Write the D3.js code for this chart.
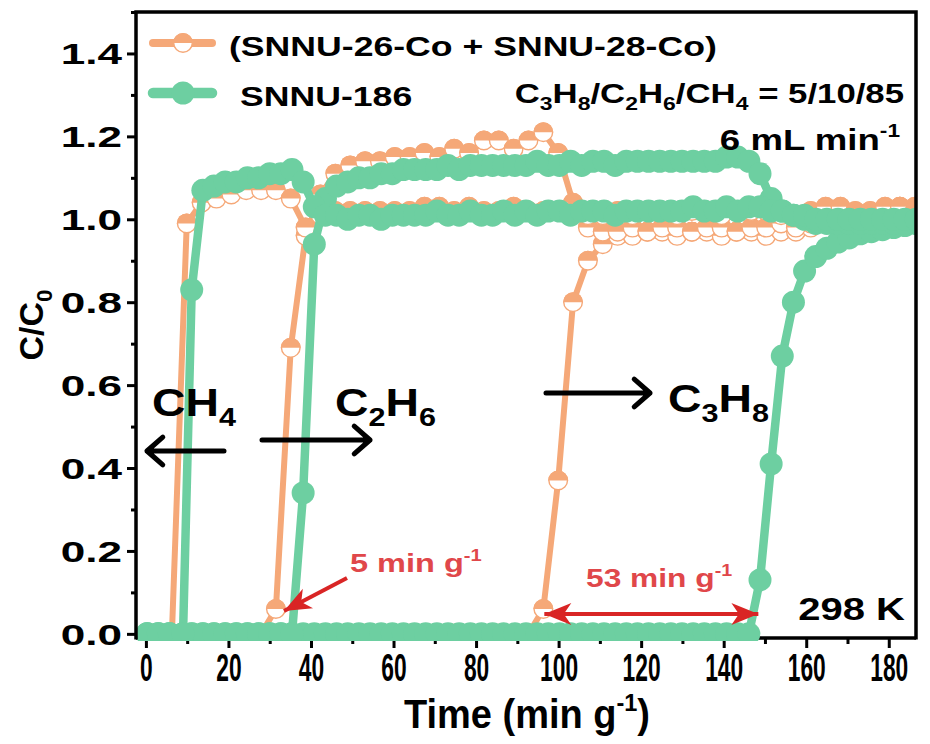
<!DOCTYPE html>
<html><head><meta charset="utf-8">
<script src="https://cdn.jsdelivr.net/npm/d3@7"></script>
<style>
html,body{margin:0;padding:0;background:#fff;}
svg text{font-family:"Liberation Sans",Arial,sans-serif;font-weight:bold;}
</style></head><body>
<svg id="c" width="930" height="744"></svg>
<script>
// ---------------- data ----------------
const xTicks = [0, 20, 40, 60, 80, 100, 120, 140, 160, 180];
const xMinor = [10, 30, 50, 70, 90, 110, 130, 150, 170];
const yTicks = [0, 0.2, 0.4, 0.6, 0.8, 1.0, 1.2, 1.4];
const yMinor = [0.1, 0.3, 0.5, 0.7, 0.9, 1.1, 1.3, 1.5];
const seriesNames = ["(SNNU-26-Co + SNNU-28-Co)", "SNNU-186"];

// (SNNU-26-Co + SNNU-28-Co)
const orangeTime = [2.7, 6.3, 9.9, 13.5, 17.1, 20.7, 24.3, 27.9, 31.5, 35.1,
  38.7, 42.3, 45.9, 49.5, 53.1, 56.7, 60.3, 63.9, 67.5, 71.1,
  74.7, 78.3, 81.9, 85.5, 89.1, 92.7, 96.3, 99.9, 103.5, 107.1,
  110.7, 114.3, 117.9, 121.5, 125.1, 128.7, 132.3, 135.9, 139.5, 143.1,
  146.7, 150.3, 153.9, 157.5, 161.1, 164.7, 168.3, 171.9, 175.5, 179.1,
  182.7, 186.3];
const orangeCH4 = [0, 0, 0.99, 1.04, 1.05, 1.06, 1.07, 1.07, 1.07, 1.05,
  0.98, 1.01, 1.02, 1.02, 1.02, 1.02, 1.02, 1.02, 1.03, 1.03,
  1.02, 1.03, 1.02, 1.02, 1.03, 1.02, 1.02, 1.02, 1.02, 1.01,
  1.01, 1.02, 1.01, 1.02, 1.02, 1.01, 1.02, 1.02, 1.01, 1.02,
  1.02, 1.02, 1.01, 1.01, 1.02, 1.03, 1.03, 1.02, 1.02, 1.03,
  1.03, 1.02];
const orangeC2H6 = [0, 0, 0, 0, 0, 0, 0, 0, 0.06, 0.69,
  0.96, 1.06, 1.11, 1.13, 1.14, 1.14, 1.15, 1.15, 1.16, 1.15,
  1.17, 1.16, 1.19, 1.19, 1.17, 1.19, 1.21, 1.16, 1.04, 0.98,
  0.97, 0.97, 0.98, 0.97, 0.98, 0.98, 0.97, 0.98, 0.98, 0.97,
  0.98, 0.98, 0.99, 0.98, 0.99, 1.00, 1.00, 1.01, 1.00, 1.01,
  1.02, 1.01];
const orangeC3H8 = [0, 0, 0, 0, 0, 0, 0, 0, 0, 0,
  0, 0, 0, 0, 0, 0, 0, 0, 0, 0,
  0, 0, 0, 0, 0, 0, 0.06, 0.37, 0.80, 0.90,
  0.94, 0.96, 0.96, 0.97, 0.97, 0.96, 0.97, 0.97, 0.96, 0.97,
  0.97, 0.96, 0.97, 0.97, 0.98, 0.99, 1.00, 1.00, 1.01, 1.02,
  1.03, 1.03];

// SNNU-186
const greenTime = [0.3, 3.0, 5.7, 9.0, 11.1, 13.8, 16.5, 19.2, 21.9, 24.6,
  27.3, 30.0, 32.7, 35.4, 38.1, 40.8, 43.5, 46.2, 48.9, 51.6,
  54.3, 57.0, 59.7, 62.4, 65.1, 67.8, 70.5, 73.2, 75.9, 78.6,
  81.3, 84.0, 86.7, 89.4, 92.1, 94.8, 97.5, 100.2, 102.9, 105.6,
  108.3, 111.0, 113.7, 116.4, 119.1, 121.8, 124.5, 127.2, 129.9, 132.6,
  135.3, 138.0, 140.7, 143.4, 146.1, 148.8, 151.5, 154.2, 156.9, 159.6,
  162.3, 165.0, 167.7, 170.4, 173.1, 175.8, 178.5, 181.2, 183.9, 186.6];
const greenCH4 = [0, 0, 0, 0, 0.83, 1.07, 1.08, 1.09, 1.09, 1.10,
  1.10, 1.11, 1.11, 1.12, 1.09, 1.03, 1.01, 1.01, 1.00, 1.01,
  1.01, 1.00, 1.01, 1.01, 1.01, 1.01, 1.02, 1.01, 1.01, 1.02,
  1.01, 1.01, 1.02, 1.01, 1.02, 1.01, 1.02, 1.02, 1.01, 1.02,
  1.02, 1.02, 1.01, 1.02, 1.02, 1.02, 1.02, 1.02, 1.02, 1.03,
  1.02, 1.02, 1.03, 1.02, 1.03, 1.03, 1.02, 1.02, 1.01, 1.01,
  1.00, 1.00, 1.00, 1.00, 1.00, 1.00, 1.00, 1.00, 1.00, 1.00];
const greenC2H6 = [0, 0, 0, 0, 0, 0, 0, 0, 0, 0,
  0, 0, 0, 0, 0.34, 0.94, 1.05, 1.08, 1.09, 1.10,
  1.10, 1.11, 1.11, 1.12, 1.12, 1.12, 1.12, 1.13, 1.12, 1.13,
  1.13, 1.13, 1.13, 1.13, 1.13, 1.14, 1.13, 1.13, 1.14, 1.13,
  1.14, 1.14, 1.13, 1.14, 1.14, 1.14, 1.14, 1.14, 1.14, 1.14,
  1.14, 1.14, 1.15, 1.15, 1.14, 1.11, 1.05, 1.02, 1.01, 1.00,
  0.99, 0.99, 0.99, 0.99, 0.99, 0.99, 0.99, 0.99, 0.99, 0.99];
const greenC3H8 = [0, 0, 0, 0, 0, 0, 0, 0, 0, 0,
  0, 0, 0, 0, 0, 0, 0, 0, 0, 0,
  0, 0, 0, 0, 0, 0, 0, 0, 0, 0,
  0, 0, 0, 0, 0, 0, 0, 0, 0, 0,
  0, 0, 0, 0, 0, 0, 0, 0, 0, 0,
  0, 0, 0, 0, 0, 0.13, 0.41, 0.67, 0.80, 0.875,
  0.91, 0.93, 0.945, 0.955, 0.965, 0.97, 0.975, 0.98, 0.985, 0.99];

// annotation values (x positions in min g-1)
const delayC3H8 = [96.3, 148.4];  // "53 min g-1"

// ---------------- drawing ----------------
const OR = "#F5A878", GR = "#6DCFA1", RED = "#D92525", RTXT = "#E0474A";
const L = 136, R = 916, T = 12, B = 638;
const x = d3.scaleLinear().domain([-2.4, 186.6]).range([L, R]);
const y = d3.scaleLinear().domain([-0.01, 1.5]).range([B, T]);
const svg = d3.select("#c");

// bottom frame line (drawn under data)
svg.append("line").attr("x1", L).attr("x2", R).attr("y1", B).attr("y2", B)
  .attr("stroke", "#000").attr("stroke-width", 3.5);

function styleAxis(g) {
  g.attr("font-size", null).attr("font-family", null);
  g.select(".domain").remove();
  g.selectAll("line").attr("stroke", "#000").attr("stroke-width", 3);
}
// x axis
const gx = svg.append("g").attr("transform", `translate(0,${B})`)
  .call(d3.axisBottom(x).tickValues(xTicks).tickSize(10).tickFormat(d => d));
styleAxis(gx);
gx.selectAll("text").attr("y", 0).attr("dy", 0).attr("font-size", 38).attr("fill", "#000")
  .attr("transform", "translate(0,43) scale(0.6,1)");
const gxm = svg.append("g").attr("transform", `translate(0,${B})`)
  .call(d3.axisBottom(x).tickValues(xMinor).tickSize(6).tickFormat(""));
styleAxis(gxm);

// y axis
const gy = svg.append("g").attr("transform", `translate(${L},0)`)
  .call(d3.axisLeft(y).tickValues(yTicks).tickSize(9).tickFormat(d3.format(".1f")));
styleAxis(gy);
gy.selectAll("text").attr("x", 0).attr("dy", "0.36em").attr("font-size", 29).attr("fill", "#000")
  .attr("transform", "translate(-14,0) scale(1.52,1)");
const gym = svg.append("g").attr("transform", `translate(${L},0)`)
  .call(d3.axisLeft(y).tickValues(yMinor).tickSize(5).tickFormat(""));
styleAxis(gym);

// data
svg.append("clipPath").attr("id", "pc").append("rect")
  .attr("x", L + 1.5).attr("y", T).attr("width", R - L - 1.5).attr("height", B - T + 3);
const plot = svg.append("g").attr("clip-path", "url(#pc)");
const line = d3.line().x(d => x(d[0])).y(d => y(d[1]));
const halfArc = d3.arc()({innerRadius: 0, outerRadius: 10, startAngle: -Math.PI / 2, endAngle: Math.PI / 2});

function orangeMarker(sel) {
  sel.append("circle").attr("r", 9.3).attr("fill", "#fff").attr("stroke", OR).attr("stroke-width", 1.4);
  sel.append("path").attr("d", halfArc).attr("fill", OR);
}
function greenMarker(sel) {
  sel.append("circle").attr("r", 11.5).attr("fill", GR);
}
function drawCurve(times, vals, color, lw, marker) {
  const pts = times.map((t, i) => [t, vals[i]]);
  plot.append("path").datum(pts).attr("d", line).attr("fill", "none")
    .attr("stroke", color).attr("stroke-width", lw).attr("stroke-linejoin", "round");
  plot.append("g").selectAll("g").data(pts).join("g")
    .attr("transform", d => `translate(${x(d[0])},${y(d[1])})`).call(marker);
}
[orangeC3H8, orangeC2H6, orangeCH4].forEach(v => drawCurve(orangeTime, v, OR, 6, orangeMarker));
[greenC3H8, greenC2H6, greenCH4].forEach(v => drawCurve(greenTime, v, GR, 8.5, greenMarker));

// remaining frame lines
svg.append("path").attr("d", `M${L},${B + 1.5}V${T}H${R}V${B + 1.5}`)
  .attr("fill", "none").attr("stroke", "#000").attr("stroke-width", 3.5);

// text helper
function txt(xp, yp, sx, size, parts, opts = {}) {
  const t = svg.append("text")
    .attr("transform", `translate(${xp},${yp}) scale(${sx},1)` + (opts.rot ? ` rotate(${opts.rot})` : ""))
    .attr("font-size", size).attr("fill", opts.fill || "#000")
    .attr("text-anchor", opts.anchor || "start");
  let shift = 0;
  parts.forEach(p => {
    const [s, k] = Array.isArray(p) ? p : [p, "n"];
    let target = 0, fs = size;
    if (k === "sub") { target = 0.26 * size; fs = 0.66 * size; }
    if (k === "sup") { target = -0.42 * size; fs = 0.62 * size; }
    t.append("tspan").attr("font-size", fs).attr("dy", target - shift).text(s);
    shift = target;
  });
  return t;
}

// legend
[[OR, orangeMarker, 43, 6], [GR, greenMarker, 93, 8.5]].forEach(([c, m, ly, lw]) => {
  svg.append("line").attr("x1", 153).attr("x2", 212).attr("y1", ly).attr("y2", ly)
    .attr("stroke", c).attr("stroke-width", lw + 2).attr("stroke-linecap", "round");
  svg.append("g").attr("transform", `translate(183,${ly})`).call(m);
});
txt(229, 56, 1.25, 28.5, [seriesNames[0]]);
txt(240, 106, 1.25, 28.5, [seriesNames[1]]);

// conditions
txt(904, 103, 1.22, 28.5, ["C", ["3", "sub"], "H", ["8", "sub"], "/C", ["2", "sub"], "H", ["6", "sub"], "/CH", ["4", "sub"], " = 5/10/85"], {anchor: "end"});
txt(900, 150, 1.22, 30, ["6 mL min", ["-1", "sup"]], {anchor: "end"});
txt(905, 620, 1.25, 32, ["298 K"], {anchor: "end"});

// axis titles
txt(527, 728, 0.95, 40, ["Time (min g", ["-1", "sup"], ")"], {anchor: "middle"});
txt(43, 325, 1, 34, ["C/C", ["0", "sub"]], {anchor: "middle", rot: -90});

// gas labels
txt(152, 416, 1.22, 38, ["CH", ["4", "sub"]]);
txt(335, 416, 1.22, 38, ["C", ["2", "sub"], "H", ["6", "sub"]]);
txt(668, 412, 1.22, 38, ["C", ["3", "sub"], "H", ["8", "sub"]]);

// black arrows with open heads
function blackArrow(x1, y1, x2, y2) {
  const a = Math.atan2(y2 - y1, x2 - x1), len = 21, sp = 0.72;
  const p = d3.path();
  p.moveTo(x1, y1); p.lineTo(x2, y2);
  p.moveTo(x2 - len * Math.cos(a - sp), y2 - len * Math.sin(a - sp));
  p.lineTo(x2, y2);
  p.lineTo(x2 - len * Math.cos(a + sp), y2 - len * Math.sin(a + sp));
  svg.append("path").attr("d", p.toString()).attr("fill", "none").attr("stroke", "#000")
    .attr("stroke-width", 5).attr("stroke-linecap", "round").attr("stroke-linejoin", "round");
}
blackArrow(224, 451, 147, 451);
blackArrow(262, 440, 370, 440);
blackArrow(546, 393, 650, 393);

// red arrows with filled heads
function redHead(xt, yt, a, len, hw) {
  const c = Math.cos(a), s = Math.sin(a);
  const pt = (u, v) => [xt - u * c + v * s, yt - u * s - v * c];
  const pts = [pt(0, 0), pt(len, hw), pt(len * 0.72, 0), pt(len, -hw)];
  svg.append("path").attr("d", "M" + pts.map(p => p.join(",")).join("L") + "Z").attr("fill", RED);
}
function redArrow(x1, y1, x2, y2, both) {
  const a = Math.atan2(y2 - y1, x2 - x1);
  svg.append("line").attr("x1", x1).attr("y1", y1).attr("x2", x2).attr("y2", y2)
    .attr("stroke", RED).attr("stroke-width", 4);
  redHead(x2, y2, a, 27, 11);
  if (both) redHead(x1, y1, a + Math.PI, 27, 11);
}
redArrow(347, 578, 284, 611, false);
redArrow(x(delayC3H8[0]) + 1, 614, x(delayC3H8[1]), 614, true);

txt(350, 572, 1.25, 26, ["5 min g", ["-1", "sup"]], {fill: RTXT});
txt(586, 587, 1.22, 26, ["53 min g", ["-1", "sup"]], {fill: RTXT});
</script>
</body></html>
